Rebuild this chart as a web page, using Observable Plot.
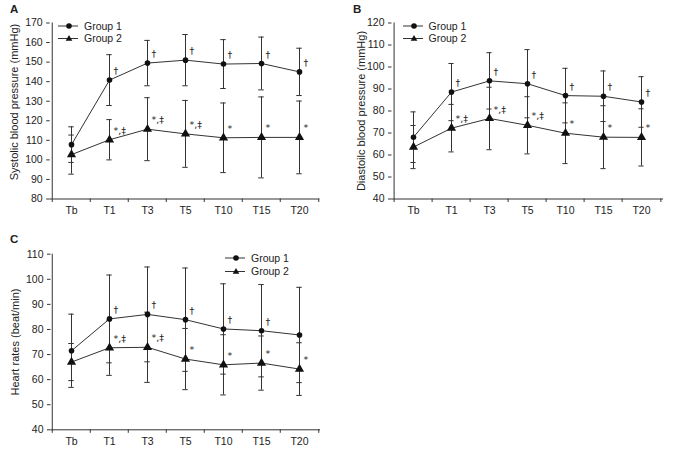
<!DOCTYPE html>
<html>
<head>
<meta charset="utf-8">
<script src="https://cdn.jsdelivr.net/npm/d3@7"></script>
<script src="https://cdn.jsdelivr.net/npm/@observablehq/plot@0.6"></script>
<style>
  html, body { margin: 0; padding: 0; background: #fff; }
  #wrap { position: relative; width: 676px; height: 454px; font-family: "Liberation Sans", Arial, sans-serif; color: #222; }
  .panel { position: absolute; }
  .letter { position: absolute; font-weight: bold; font-size: 11.5px; line-height: 1; z-index: 2; }
  .legend { position: absolute; font-size: 10.5px; line-height: 12.5px; z-index: 2; }
  .legend div { display: flex; align-items: center; height: 12.5px; white-space: nowrap; }
  .legend svg { margin-right: 6px; }
  svg text { -webkit-font-smoothing: grayscale; }
</style>
</head>
<body>
<div id="wrap"></div>
<script>
const times = ["Tb", "T1", "T3", "T5", "T10", "T15", "T20"];
const groups = ["Group 1", "Group 2"];

// Panel A: systolic blood pressure (mmHg), mean and SD
const sbp1 = [107.8, 140.8, 149.5, 151.0, 149.0, 149.3, 145.0];
const sbp1SD = [9.1, 13.0, 11.6, 13.1, 12.5, 13.5, 12.1];
const sbp2 = [102.7, 110.3, 115.7, 113.3, 111.3, 111.5, 111.5];
const sbp2SD = [10.0, 10.3, 16.1, 17.1, 17.8, 20.7, 18.6];
const annA1 = ["", "†", "†", "†", "†", "†", "†"];
const annA2 = ["", "*,‡", "*,‡", "*,‡", "*", "*", "*"];
const ticksA = [80, 90, 100, 110, 120, 130, 140, 150, 160, 170];

// Panel B: diastolic blood pressure (mmHg)
const dbp1 = [68.1, 88.6, 93.7, 92.4, 87.0, 86.7, 84.1];
const dbp1SD = [11.5, 13.0, 12.8, 15.5, 12.4, 11.5, 11.5];
const dbp2 = [63.6, 72.2, 76.6, 73.5, 69.9, 68.1, 68.0];
const dbp2SD = [9.8, 10.8, 14.2, 13.0, 13.8, 14.3, 13.0];
const annB1 = ["", "†", "†", "†", "†", "†", "†"];
const annB2 = ["", "*,‡", "*,‡", "*,‡", "*", "*", "*"];
const ticksB = [40, 50, 60, 70, 80, 90, 100, 110, 120];

// Panel C: heart rates (beat/min)
const hr1 = [71.5, 84.2, 86.0, 83.9, 80.2, 79.5, 77.8];
const hr1SD = [14.6, 17.5, 18.9, 20.6, 18.0, 18.4, 19.0];
const hr2 = [67.0, 72.7, 72.9, 68.2, 65.9, 66.6, 64.2];
const hr2SD = [7.4, 11.0, 14.0, 12.2, 12.0, 10.8, 10.5];
const annC1 = ["", "†", "†", "†", "†", "†", ""];
const annC2 = ["", "*,‡", "*,‡", "*", "*", "*", "*"];
const ticksC = [40, 50, 60, 70, 80, 90, 100, 110];

const INK = "#333";
const FONT = "'Liberation Sans', Arial, sans-serif";

function panel(cfg) {
  const rows = times.flatMap((t, i) => [
    {t, g: groups[0], m: cfg.s1[i], sd: cfg.s1sd[i], a: cfg.a1[i]},
    {t, g: groups[1], m: cfg.s2[i], sd: cfg.s2sd[i], a: cfg.a2[i]}
  ]);
  const bw = (cfg.width - cfg.ml - cfg.mr) / times.length;
  const capInset = (bw - 6) / 2;
  const y0 = cfg.ticks[0], y1 = cfg.ticks[cfg.ticks.length - 1];
  return Plot.plot({
    width: cfg.width, height: cfg.height,
    marginLeft: cfg.ml, marginRight: cfg.mr, marginTop: cfg.mt, marginBottom: cfg.mb,
    style: {fontFamily: FONT, fontSize: "10.5px", color: "#222", background: "transparent", overflow: "visible"},
    x: {type: "band", domain: times, padding: 0, axis: null},
    y: {domain: [y0, y1], axis: null},
    marks: [
      Plot.ruleY([y0], {stroke: INK}),
      Plot.ruleX([times[0]], {dx: -bw / 2, stroke: INK}),
      Plot.axisY({ticks: cfg.ticks, tickSize: 3.5, tickPadding: 4, label: null, stroke: INK, fill: "#222"}),
      Plot.axisX({tickSize: 0, tickPadding: 8, label: null, fill: "#222"}),
      Plot.axisX({tickSize: 3.5, tickFormat: () => "", dx: -bw / 2, label: null, stroke: INK}),
      Plot.axisX({ticks: [times[times.length - 1]], tickSize: 3.5, tickFormat: () => "", dx: bw / 2, label: null, stroke: INK}),
      Plot.ruleX(rows, {x: "t", y1: d => d.m - d.sd, y2: d => d.m + d.sd, stroke: INK, strokeWidth: 1}),
      Plot.tickY(rows, {x: "t", y: d => d.m + d.sd, insetLeft: capInset, insetRight: capInset, stroke: INK}),
      Plot.tickY(rows, {x: "t", y: d => d.m - d.sd, insetLeft: capInset, insetRight: capInset, stroke: INK}),
      Plot.line(rows, {x: "t", y: "m", z: "g", stroke: INK, strokeWidth: 1}),
      Plot.dot(rows.filter(d => d.g === groups[0]), {x: "t", y: "m", r: 2.8, fill: "#111", stroke: "none"}),
      Plot.dot(rows.filter(d => d.g === groups[1]), {x: "t", y: "m", r: 3.4, symbol: "triangle", fill: "#111", stroke: "none"}),
      Plot.text(rows, {x: "t", y: "m", text: "a", dx: 4, dy: -9, textAnchor: "start", fontSize: 9.5, fill: "#222", fontFamily: "'DejaVu Sans', sans-serif"}),
      Plot.text([cfg.title], {frameAnchor: "left", textAnchor: "middle", rotate: -90, dx: -cfg.titleOffset, dy: cfg.titleDy, fontSize: 11, fill: "#222"})
    ]
  });
}

function legend(left, top) {
  const el = document.createElement("div");
  el.className = "legend";
  el.style.left = left + "px";
  el.style.top = top + "px";
  const circle = '<svg width="20" height="8"><line x1="0" x2="20" y1="4" y2="4" stroke="#333"/><circle cx="11" cy="4" r="2.8" fill="#111"/></svg>';
  const tri = '<svg width="20" height="8"><line x1="0" x2="20" y1="4.5" y2="4.5" stroke="#333"/><path d="M11,1 L14.3,6.8 L7.7,6.8 Z" fill="#111"/></svg>';
  el.innerHTML = `<div>${circle}<span>${groups[0]}</span></div><div>${tri}<span>${groups[1]}</span></div>`;
  return el;
}

function place(node, left, top) {
  const d = document.createElement("div");
  d.className = "panel";
  d.style.left = left + "px";
  d.style.top = top + "px";
  d.appendChild(node);
  return d;
}

function letter(txt, left, top) {
  const d = document.createElement("div");
  d.className = "letter";
  d.textContent = txt;
  d.style.left = left + "px";
  d.style.top = top + "px";
  return d;
}

const wrap = document.getElementById("wrap");

wrap.appendChild(place(panel({
  width: 340, height: 222, ml: 49.7, mr: 20.7, mt: 22.5, mb: 23.5,
  s1: sbp1, s1sd: sbp1SD, s2: sbp2, s2sd: sbp2SD, a1: annA1, a2: annA2, ticks: ticksA,
  title: "Systolic blood pressure (mmHg)", titleOffset: 36, titleDy: -9
}), 0, 0));

wrap.appendChild(place(panel({
  width: 336, height: 222, ml: 51.5, mr: 13, mt: 22.5, mb: 23.5,
  s1: dbp1, s1sd: dbp1SD, s2: dbp2, s2sd: dbp2SD, a1: annB1, a2: annB2, ticks: ticksB,
  title: "Diastoilc blood pressure (mmHg)", titleOffset: 31, titleDy: 0
}), 340, 0));

wrap.appendChild(place(panel({
  width: 340, height: 229, ml: 50.5, mr: 20, mt: 28.7, mb: 24.7,
  s1: hr1, s1sd: hr1SD, s2: hr2, s2sd: hr2SD, a1: annC1, a2: annC2, ticks: ticksC,
  title: "Heart rates (beat/min)", titleOffset: 36, titleDy: 0
}), 0, 225));

wrap.appendChild(legend(58, 19.5));
wrap.appendChild(legend(402.5, 19.5));
wrap.appendChild(legend(225, 252));

wrap.appendChild(letter("A", 10, 4));
wrap.appendChild(letter("B", 353, 4));
wrap.appendChild(letter("C", 10, 234));
</script>
</body>
</html>
